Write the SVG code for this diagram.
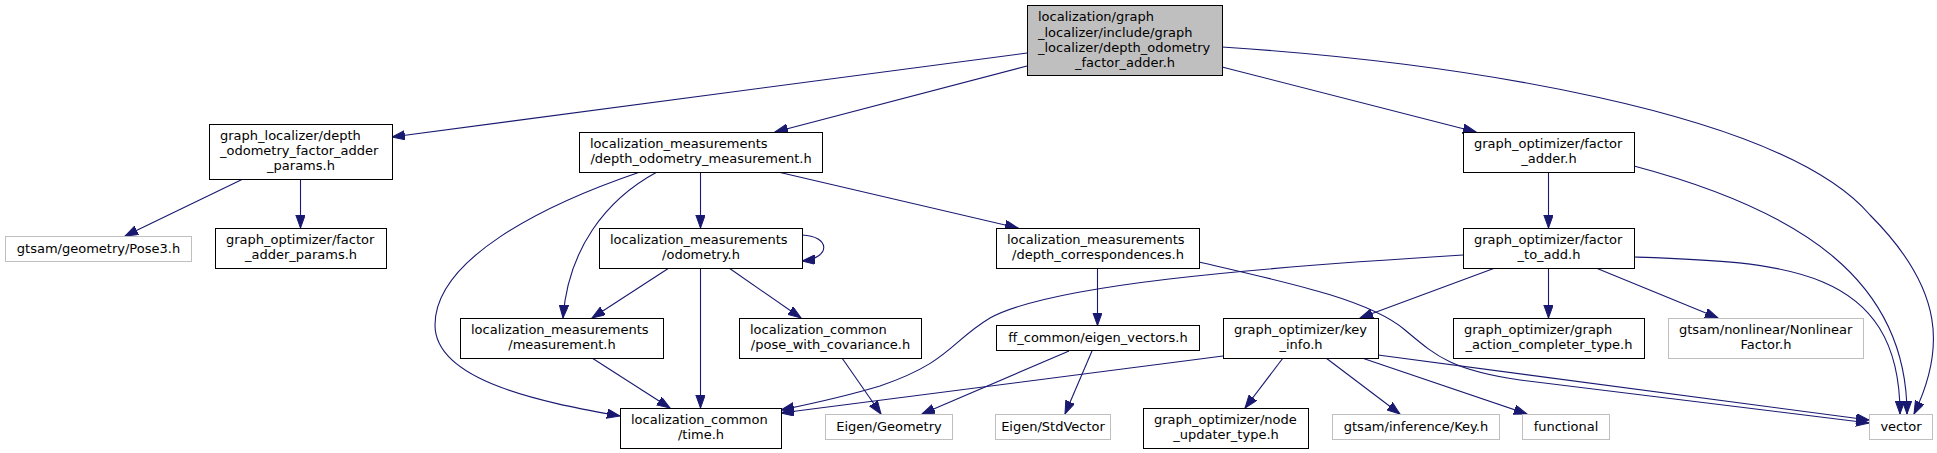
<svg xmlns="http://www.w3.org/2000/svg" width="1937" height="453" viewBox="0 0 1937 453">
<style>
text{font-family:"DejaVu Sans","Liberation Sans",sans-serif;font-size:13px;fill:#000}
.s{text-anchor:start}
.m{text-anchor:middle}
.n{fill:#fff;stroke:#000;stroke-width:1}
.g{fill:#fff;stroke:#bfbfbf;stroke-width:1}
.r{fill:#bfbfbf;stroke:#000;stroke-width:1}
.e{fill:none;stroke:#191970;stroke-width:1.1;marker-end:url(#a)}
</style>
<defs>
<marker id="a" markerUnits="userSpaceOnUse" markerWidth="14" markerHeight="10" refX="13" refY="4.7" orient="auto">
<path d="M0,0 L13,4.7 L0,9.4 z" fill="#191970" stroke="#191970" stroke-width="1"/>
</marker>
</defs>
<rect width="1937" height="453" fill="#fff"/>
<g id="edges">
<path class="e" d="M1027,53 L392,137"/>
<path class="e" d="M1027,66 L775,132"/>
<path class="e" d="M1222,67 L1476,132"/>
<path class="e" d="M1222,47 C1450,62 1780,110 1870,215 C1945,290 1945,350 1914,414"/>
<path class="e" d="M243,179 L125,236"/>
<path class="e" d="M300.5,179 L300.5,228"/>
<path class="e" d="M640,172 C540,206 435,260 435,325 C435,385 560,405 620,416"/>
<path class="e" d="M657,172 C605,200 568,250 563,318"/>
<path class="e" d="M700.5,172 L700.5,228"/>
<path class="e" d="M778,172 L1018,228"/>
<path class="e" d="M669,268 L592,318"/>
<path class="e" d="M700.5,268 L700.5,408"/>
<path class="e" d="M729,268 L801,318"/>
<path class="e" d="M802,235 C830,236 832,258 802,261"/>
<path class="e" d="M592,358 L670,408"/>
<path class="e" d="M842,358 L881,414"/>
<path class="e" d="M1097.5,268 L1097.5,325.5"/>
<path class="e" d="M1199,262 C1290,283 1370,300 1405,330 C1435,355 1450,370 1520,380 L1869,423"/>
<path class="e" d="M1069,351 L922,414"/>
<path class="e" d="M1092,351 L1065,414"/>
<path class="e" d="M1548.5,172 L1548.5,228"/>
<path class="e" d="M1634,166 C1800,210 1907,280 1907,414"/>
<path class="e" d="M1463,255 C1250,268 1050,285 990,318 C950,342 950,362 880,386 C840,398 810,404 781,410"/>
<path class="e" d="M1495,268 L1360,318"/>
<path class="e" d="M1548.5,268 L1548.5,318"/>
<path class="e" d="M1596,268 L1718,318"/>
<path class="e" d="M1634,257 C1780,262 1900,265 1900,414"/>
<path class="e" d="M1223,356 L781,413"/>
<path class="e" d="M1283,358 L1245,408"/>
<path class="e" d="M1326,358 L1400,414"/>
<path class="e" d="M1362,358 L1527,414"/>
<path class="e" d="M1378,355 L1869,420"/>
</g>
<g id="root"><rect class="r" x="1027.5" y="5.5" width="195" height="70"/>
<text class="s" x="1038" y="21">localization/graph</text>
<text class="s" x="1038" y="36.5">_localizer/include/graph</text>
<text class="s" x="1038" y="51.5">_localizer/depth_odometry</text>
<text class="m" x="1125" y="66.5">_factor_adder.h</text></g>
<g id="params"><rect class="n" x="209.5" y="124.5" width="183" height="55"/>
<text class="s" x="220" y="140.3">graph_localizer/depth</text>
<text class="s" x="220" y="155.3">_odometry_factor_adder</text>
<text class="m" x="301" y="170.3">_params.h</text></g>
<g id="dom"><rect class="n" x="579.5" y="132.5" width="243" height="40"/>
<text class="s" x="590" y="148.3">localization_measurements</text>
<text class="m" x="701" y="163.3">/depth_odometry_measurement.h</text></g>
<g id="factor_adder"><rect class="n" x="1463.5" y="132.5" width="171" height="40"/>
<text class="s" x="1474" y="148.3">graph_optimizer/factor</text>
<text class="m" x="1549" y="163.3">_adder.h</text></g>
<g id="pose3"><rect class="g" x="5.5" y="236.5" width="186" height="25"/>
<text class="m" x="98.5" y="253">gtsam/geometry/Pose3.h</text></g>
<g id="fap"><rect class="n" x="215.5" y="228.5" width="171" height="40"/>
<text class="s" x="226" y="244.3">graph_optimizer/factor</text>
<text class="m" x="301" y="259.3">_adder_params.h</text></g>
<g id="odometry"><rect class="n" x="599.5" y="228.5" width="203" height="40"/>
<text class="s" x="610" y="244.3">localization_measurements</text>
<text class="m" x="701" y="259.3">/odometry.h</text></g>
<g id="measurement"><rect class="n" x="460.5" y="318.5" width="203" height="40"/>
<text class="s" x="471" y="334.3">localization_measurements</text>
<text class="m" x="562" y="349.3">/measurement.h</text></g>
<g id="pwc"><rect class="n" x="739.5" y="318.5" width="182" height="40"/>
<text class="s" x="750" y="334.3">localization_common</text>
<text class="m" x="830.5" y="349.3">/pose_with_covariance.h</text></g>
<g id="time"><rect class="n" x="620.5" y="408.5" width="161" height="40"/>
<text class="s" x="631" y="424.3">localization_common</text>
<text class="m" x="701" y="439.3">/time.h</text></g>
<g id="eigen_geometry"><rect class="g" x="825.5" y="414.5" width="127" height="25"/>
<text class="m" x="889" y="431">Eigen/Geometry</text></g>
<g id="eigen_stdvector"><rect class="g" x="995.5" y="414.5" width="115" height="25"/>
<text class="m" x="1053" y="431">Eigen/StdVector</text></g>
<g id="depth_corr"><rect class="n" x="996.5" y="228.5" width="203" height="40"/>
<text class="s" x="1007" y="244.3">localization_measurements</text>
<text class="m" x="1098" y="259.3">/depth_correspondences.h</text></g>
<g id="eigen_vectors"><rect class="n" x="996.5" y="325.5" width="203" height="25"/>
<text class="m" x="1098" y="342">ff_common/eigen_vectors.h</text></g>
<g id="key_info"><rect class="n" x="1223.5" y="318.5" width="155" height="40"/>
<text class="s" x="1234" y="334.3">graph_optimizer/key</text>
<text class="m" x="1301" y="349.3">_info.h</text></g>
<g id="factor_to_add"><rect class="n" x="1463.5" y="228.5" width="171" height="40"/>
<text class="s" x="1474" y="244.3">graph_optimizer/factor</text>
<text class="m" x="1549" y="259.3">_to_add.h</text></g>
<g id="gac"><rect class="n" x="1453.5" y="318.5" width="191" height="40"/>
<text class="s" x="1464" y="334.3">graph_optimizer/graph</text>
<text class="m" x="1549" y="349.3">_action_completer_type.h</text></g>
<g id="nonlinear"><rect class="g" x="1668.5" y="318.5" width="195" height="40"/>
<text class="s" x="1679" y="334.3">gtsam/nonlinear/Nonlinear</text>
<text class="m" x="1766" y="349.3">Factor.h</text></g>
<g id="node_updater"><rect class="n" x="1143.5" y="408.5" width="165" height="40"/>
<text class="s" x="1154" y="424.3">graph_optimizer/node</text>
<text class="m" x="1226" y="439.3">_updater_type.h</text></g>
<g id="key"><rect class="g" x="1332.5" y="414.5" width="167" height="25"/>
<text class="m" x="1416" y="431">gtsam/inference/Key.h</text></g>
<g id="functional"><rect class="g" x="1522.5" y="414.5" width="87" height="25"/>
<text class="m" x="1566" y="431">functional</text></g>
<g id="vector"><rect class="g" x="1869.5" y="414.5" width="63" height="25"/>
<text class="m" x="1901" y="431">vector</text></g>
</svg>
